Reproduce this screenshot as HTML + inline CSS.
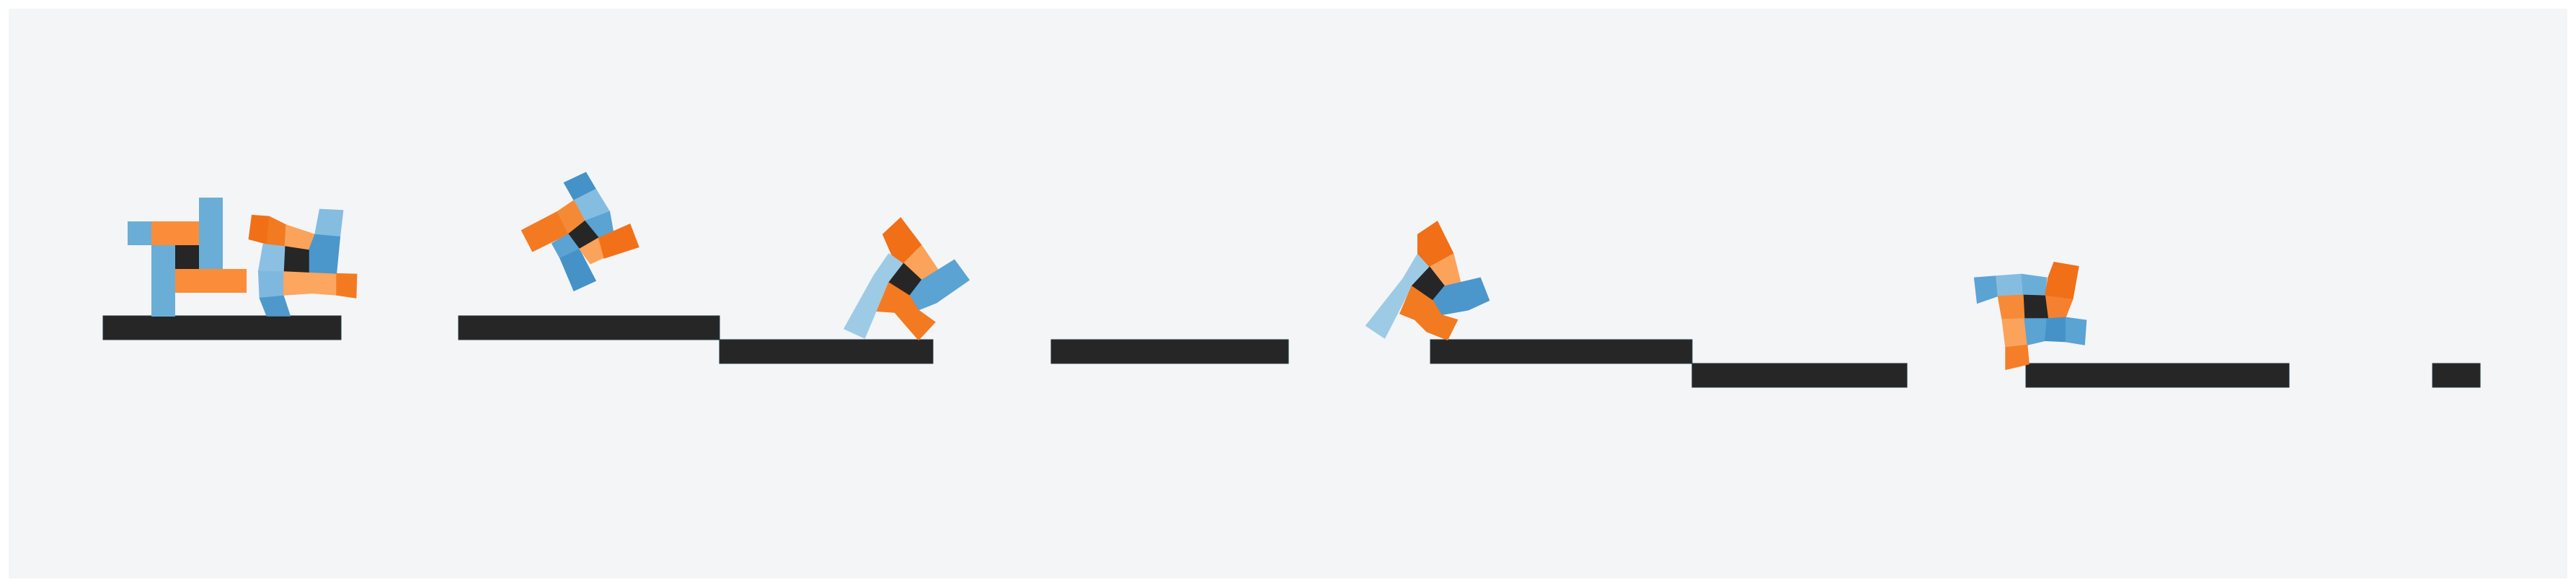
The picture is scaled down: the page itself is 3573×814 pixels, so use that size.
<!DOCTYPE html>
<html><head><meta charset="utf-8"><title>Soft robot terrain</title>
<style>
html,body{margin:0;padding:0;background:#fff;}
svg{display:block;}
</style></head>
<body>
<svg id="scene" width="3573" height="814" viewBox="0 0 3573 814" xmlns="http://www.w3.org/2000/svg">
<rect x="12" y="12" width="3549" height="790" fill="#f3f5f7"/>
<g id="platforms"></g>
<g id="robots"></g>
</svg>
<script>
// terrain platforms
const platX0 = [143, 636, 998, 1458, 1984, 2347, 2810, 3374];
const platX1 = [473, 998, 1294, 1787, 2347, 2645, 3175, 3440];
const platY0 = [438, 438, 471, 471, 471, 504, 504, 504];
const platH = 33;

// robot 1: grid cells [col,row,type] ; type b=blue o=orange k=black
const r1Cells = [[3,0,'b'],[0,1,'b'],[1,1,'o'],[2,1,'o'],[3,1,'b'],[1,2,'b'],[2,2,'k'],[3,2,'b'],
  [1,3,'b'],[2,3,'o'],[3,3,'o'],[4,3,'o'],[1,4,'b']];

// deformed robots: [originX, originY, scaleX, scaleY, polygons[[color, points]]]
const robotShapes = [
 [100,250,1/3,1/3,[
  ['#f06f17','748,145 820,150 810,265 735,245'],
  ['#f27a20','820,150 890,185 885,275 810,265'],
  ['#fba35a','890,185 1010,225 985,290 885,275'],
  ['#85bde0','1030,120 1128,125 1115,235 1010,225'],
  ['#4b97cb','1010,225 1115,235 1100,390 985,385 985,290'],
  ['#262626','885,275 985,290 985,385 880,380'],
  ['#8cc0e2','795,265 885,275 880,380 775,378'],
  ['#7fb8df','775,378 880,380 880,480 780,490'],
  ['#4f98cb','780,490 880,480 908,565 810,565'],
  ['#fca660','880,380 1100,390 1100,478 1000,470 880,478'],
  ['#f47a22','1100,388 1185,390 1182,490 1100,478']]],
 [0,0,1/1.3067,1/1.926,[
  ['#4592c8','1022,488 1062,460 1080,505 1040,535'],
  ['#85bde0','1040,535 1080,505 1105,565 1060,590'],
  ['#f47a22','945,615 1010,565 1030,625 965,672'],
  ['#f58a36','1010,565 1040,535 1060,590 1030,625'],
  ['#5aa3d3','1060,590 1105,565 1112,622 1085,635'],
  ['#262626','1030,625 1060,590 1085,635 1050,665'],
  ['#5aa3d3','1000,650 1030,625 1050,665 1015,690'],
  ['#4592c8','1015,690 1050,665 1080,750 1040,777'],
  ['#fba35a','1050,665 1085,635 1095,688 1070,705'],
  ['#f27118','1085,635 1142,598 1158,660 1095,690']]],
 [1100,200,1/1.2062,1/3,[
  ['#9dcbe5','160,455 185,495 160,570 120,808 85,768 135,545'],
  ['#f06f17','180,305 215,420 185,495 165,460 150,375'],
  ['#fba35a','215,420 245,530 215,565 185,495'],
  ['#262626','185,495 215,565 195,630 160,575'],
  ['#5aa3d3','215,565 270,480 295,565 240,660 210,690 195,630'],
  ['#f47a22','160,575 195,630 210,690 238,740 210,815 170,700 140,695']]],
 [1100,200,1/1.2062,1/3,[
  ['#9dcbe5','1045,455 1065,505 1035,590 990,808 958,755 1020,560'],
  ['#f06f17','1078,320 1105,455 1065,510 1045,455 1045,375'],
  ['#fba35a','1105,455 1118,585 1090,590 1065,510'],
  ['#262626','1065,510 1090,590 1070,650 1035,590'],
  ['#4b97cb','1090,590 1150,555 1165,650 1130,690 1085,710 1070,650'],
  ['#f27a20','1035,590 1070,650 1085,710 1112,730 1095,815 1060,780 1040,730 1015,705']]],
 [2300,360,1/1.2207,1/3,[
  ['#5aa3d3','535,75 572,68 575,152 540,182'],
  ['#85bde0','572,68 615,60 618,147 575,152'],
  ['#6aaed8','615,60 658,75 655,150 618,147'],
  ['#f06f17','670,10 712,28 702,165 655,150 660,75'],
  ['#f58030','655,150 702,165 690,240 660,245'],
  ['#262626','618,147 655,150 660,245 620,245'],
  ['#f78a36','575,152 618,147 620,245 582,248'],
  ['#fba35a','582,248 620,245 625,355 588,365'],
  ['#f47f28','588,365 625,355 628,435 588,458'],
  ['#5aa3d3','620,245 658,245 655,338 625,355'],
  ['#4592c8','658,245 690,240 690,342 655,338'],
  ['#5aa3d3','690,240 725,252 722,355 690,342']]]
];

const NS = 'http://www.w3.org/2000/svg';
const pg = document.getElementById('platforms');
for (let i = 0; i < platX0.length; i++) {
  const r = document.createElementNS(NS, 'rect');
  r.setAttribute('x', platX0[i]); r.setAttribute('y', platY0[i]);
  r.setAttribute('width', platX1[i] - platX0[i]); r.setAttribute('height', platH);
  r.setAttribute('fill', '#262626'); r.setAttribute('stroke', '#1d3540'); r.setAttribute('stroke-width', '1');
  
  
  pg.appendChild(r);
}
const rg = document.getElementById('robots');
const g1 = document.createElementNS(NS, 'g');


rg.appendChild(g1);
const cmap = {b:'#6aaed8', o:'#fb8d3a', k:'#262626'};
r1Cells.forEach(c => {
  const r = document.createElementNS(NS, 'rect');
  r.setAttribute('x', 177 + c[0] * 33); r.setAttribute('y', 274 + c[1] * 33);
  r.setAttribute('width', 33); r.setAttribute('height', 33);
  r.setAttribute('fill', cmap[c[2]]);
  
  
  g1.appendChild(r);
});
robotShapes.forEach((rb, idx) => {
  const g = document.createElementNS(NS, 'g');
  g.setAttribute('transform', `translate(${rb[0]},${rb[1]}) scale(${rb[2]},${rb[3]})`);
  
  
  rb[4].forEach(p => {
    const el = document.createElementNS(NS, 'polygon');
    el.setAttribute('points', p[1]); el.setAttribute('fill', p[0]);
    el.setAttribute('stroke', p[0]); el.setAttribute('stroke-width', '0.8');
    el.setAttribute('vector-effect', 'non-scaling-stroke');
    
    
    g.appendChild(el);
  });
  rg.appendChild(g);
});
</script>
</body></html>
